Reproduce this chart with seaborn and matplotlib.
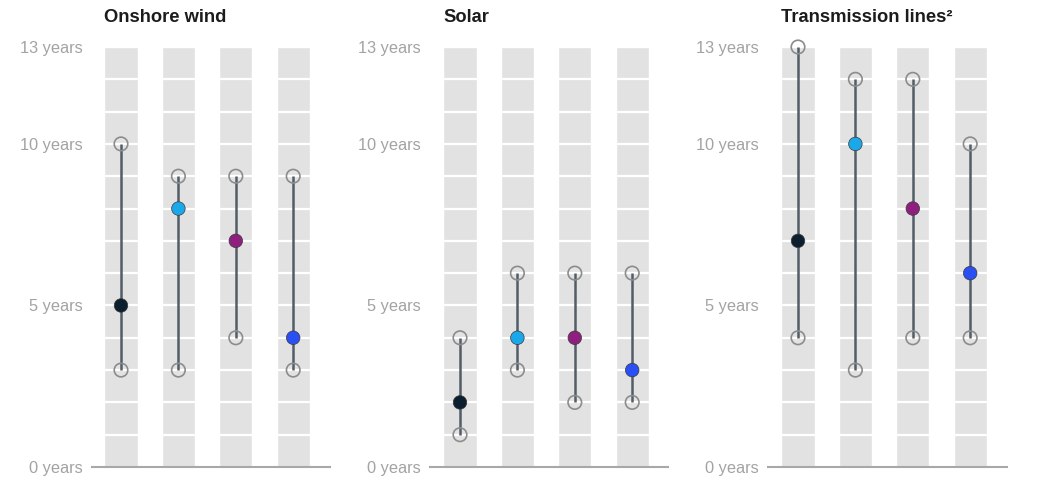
import numpy as np
import pandas as pd
import matplotlib
matplotlib.use("Agg")
import matplotlib.pyplot as plt
import seaborn as sns

# Lead-time ranges (years) for four groups, per technology
groups = ["Group 1", "Group 2", "Group 3", "Group 4"]
group_colors = ["#0b1f2e", "#1ba8ea", "#8f1f7f", "#2a4ff2"]

panel_titles = ["Onshore wind", "Solar", "Transmission lines\u00b2"]

wind_low = [3, 3, 4, 3]
wind_mid = [5, 8, 7, 4]
wind_high = [10, 9, 9, 9]

solar_low = [1, 3, 2, 2]
solar_mid = [2, 4, 4, 3]
solar_high = [4, 6, 6, 6]

trans_low = [4, 3, 4, 4]
trans_mid = [7, 10, 8, 6]
trans_high = [13, 12, 12, 10]

y_max = 13
y_ticks = [0, 5, 10, 13]
y_tick_labels = ["0 years", "5 years", "10 years", "13 years"]

panels = [
    (wind_low, wind_mid, wind_high),
    (solar_low, solar_mid, solar_high),
    (trans_low, trans_mid, trans_high),
]

sns.set_theme(style="white")
plt.rcParams["font.family"] = ["Liberation Sans", "DejaVu Sans"]

W, H = 1058, 482
fig = plt.figure(figsize=(W / 100, H / 100), dpi=100)

# pixel geometry of each panel: axis left, axis right, first column centre
geom = [(92, 330, 121), (430, 668, 460), (768, 1007, 798)]
step = 57.4
y_bottom, y_top = 467, 47

band_color = "#e2e2e2"
stem_color = "#535d67"
ring_color = "#8c8c8c"
label_color = "#a3a3a3"

for (low, mid, high), title, (left, right, c0) in zip(panels, panel_titles, geom):
    ax = fig.add_axes([left / W, 1 - y_bottom / H, (right - left) / W, (y_bottom - y_top) / H])
    df = pd.DataFrame({"group": groups, "low": low, "mid": mid, "high": high,
                       "full": [y_max] * len(groups)})

    # grey background column for each group
    sns.barplot(data=df, x="group", y="full", color=band_color, width=0.58,
                saturation=1, ax=ax, zorder=0)
    # white yearly divisions across the columns
    ax.hlines(np.arange(1, y_max), -1, len(groups), colors="white", linewidth=1.6, zorder=1)

    xs = np.arange(len(groups))
    ax.vlines(xs, df["low"], df["high"], colors=stem_color, linewidth=1.8, zorder=2)

    ends = pd.concat([
        pd.DataFrame({"group": groups, "value": low}),
        pd.DataFrame({"group": groups, "value": high}),
    ])
    sns.scatterplot(data=ends, x="group", y="value", s=95, facecolor="none",
                    edgecolor=ring_color, linewidth=1.2, ax=ax, zorder=3, clip_on=False)
    sns.scatterplot(data=df, x="group", y="mid", hue="group", palette=group_colors,
                    s=95, edgecolor="#3a3a3a", linewidth=0.5, ax=ax, zorder=4,
                    legend=False, clip_on=False)

    ax.set_xlim((left - c0) / step, (right - c0) / step)
    ax.set_ylim(0, y_max)
    ax.set_xlabel("")
    ax.set_ylabel("")
    ax.set_xticks([])
    ax.set_yticks(y_ticks)
    ax.set_yticklabels(y_tick_labels)
    ax.tick_params(axis="y", length=0, pad=7, labelsize=11.8, labelcolor=label_color)
    for side in ["top", "right", "left"]:
        ax.spines[side].set_visible(False)
    ax.spines["bottom"].set_color("#a8a8a8")
    ax.spines["bottom"].set_linewidth(1.5)
    ax.set_facecolor("none")

    fig.text((c0 - 17) / W, 1 - 18 / H, title, ha="left", va="center",
             fontsize=13.2, fontweight="bold", color="#1c1c1c")

fig.savefig("out.png", dpi=100, facecolor="white")
